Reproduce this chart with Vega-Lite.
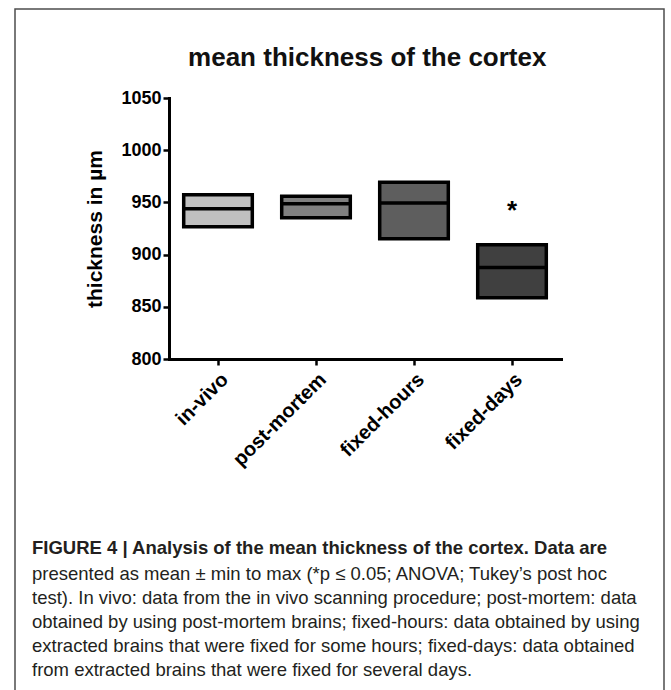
{
  "$schema": "https://vega.github.io/schema/vega-lite/v6.json",
  "padding": {"left": 14, "top": 8, "right": 0, "bottom": 0},
  "background": "white",
  "config": {
    "font": "Liberation Sans",
    "view": {"stroke": "#4d4d4d", "strokeWidth": 1.5}
  },
  "title": {
    "text": "mean thickness of the cortex",
    "orient": "top",
    "anchor": "start",
    "frame": "bounds",
    "align": "center",
    "baseline": "alphabetic",
    "dx": 353,
    "offset": -83.5,
    "fontSize": 26,
    "fontWeight": "bold",
    "color": "#111111"
  },
  "vconcat": [
    {
      "width": 649,
      "height": 730,
      "data": {
        "values": [
          {"group": "in-vivo", "min": 926.7, "max": 957.4, "mean": 944.0},
          {"group": "post-mortem", "min": 935.3, "max": 956.0, "mean": 948.8},
          {"group": "fixed-hours", "min": 915.2, "max": 969.3, "mean": 949.4},
          {"group": "fixed-days", "min": 858.7, "max": 909.5, "mean": 887.7, "sig": "*", "sig_y": 934}
        ]
      },
      "title": {
        "text": "FIGURE 4 | Analysis of the mean thickness of the cortex. Data are",
        "subtitle": [
          "presented as mean ± min to max (*p ≤ 0.05; ANOVA; Tukey’s post hoc",
          "test). In vivo: data from the in vivo scanning procedure; post-mortem: data",
          "obtained by using post-mortem brains; fixed-hours: data obtained by using",
          "extracted brains that were fixed for some hours; fixed-days: data obtained",
          "from extracted brains that were fixed for several days."
        ],
        "orient": "bottom",
        "anchor": "start",
        "frame": "group",
        "align": "left",
        "baseline": "top",
        "dx": 17,
        "offset": -200,
        "fontSize": 18.5,
        "fontWeight": "bold",
        "color": "#231f20",
        "subtitleFontSize": 18.5,
        "subtitleFontWeight": "normal",
        "subtitleColor": "#231f20",
        "subtitleLineHeight": 24,
        "subtitlePadding": 7
      },
      "layer": [
        {
          "mark": {"type": "rect", "stroke": "black", "strokeWidth": 3.5, "strokeJoin": "miter"},
          "encoding": {
            "x": {
              "field": "group", "type": "nominal",
              "sort": ["in-vivo", "post-mortem", "fixed-hours", "fixed-days"],
              "scale": {"type": "band", "range": [154, 546], "paddingInner": 0.3, "paddingOuter": 0.15},
              "axis": {
                "offset": -380,
                "labelAngle": -45,
                "labelFontSize": 20,
                "labelFontWeight": "bold",
                "labelColor": "black",
                "labelPadding": 4,
                "tickSize": 6,
                "tickWidth": 2.5,
                "tickColor": "black",
                "domainColor": "black",
                "domainWidth": 3,
                "domainCap": "square",
                "title": null
              }
            },
            "y": {
              "field": "min", "type": "quantitative",
              "scale": {"domain": [800, 1050], "range": [350, 89], "nice": false, "zero": false},
              "title": "thickness in µm",
              "axis": {
                "values": [800, 850, 900, 950, 1000, 1050],
                "format": "d",
                "offset": -154,
                "grid": false,
                "domainColor": "black",
                "domainWidth": 3,
                "domainCap": "square",
                "tickColor": "black",
                "tickWidth": 2.5,
                "tickSize": 6,
                "labelFontSize": 18,
                "labelFontWeight": "bold",
                "labelColor": "black",
                "labelPadding": 2,
                "titleFontSize": 21,
                "titleFontWeight": "bold",
                "titleColor": "black",
                "titlePadding": 15
              }
            },
            "y2": {"field": "max"},
            "color": {
              "field": "group", "type": "nominal",
              "scale": {"domain": ["in-vivo", "post-mortem", "fixed-hours", "fixed-days"], "range": ["#c0c0c0", "#808080", "#5e5e5e", "#404040"]},
              "legend": null
            }
          }
        },
        {
          "mark": {"type": "rect", "stroke": "black", "strokeWidth": 3.5, "fill": "transparent"},
          "encoding": {
            "x": {
              "field": "group", "type": "nominal",
              "sort": ["in-vivo", "post-mortem", "fixed-hours", "fixed-days"],
              "scale": {"type": "band", "range": [154, 546], "paddingInner": 0.3, "paddingOuter": 0.15}
            },
            "y": {
              "field": "mean", "type": "quantitative",
              "scale": {"domain": [800, 1050], "range": [350, 89], "nice": false, "zero": false},
              "title": "thickness in µm"
            },
            "y2": {"field": "mean"}
          }
        },
        {
          "transform": [{"filter": "isValid(datum.sig)"}],
          "mark": {"type": "text", "fontSize": 26, "fontWeight": "bold", "baseline": "alphabetic", "align": "center", "color": "black"},
          "encoding": {
            "x": {
              "field": "group", "type": "nominal",
              "sort": ["in-vivo", "post-mortem", "fixed-hours", "fixed-days"],
              "scale": {"type": "band", "range": [154, 546], "paddingInner": 0.3, "paddingOuter": 0.15},
              "bandPosition": 0.5
            },
            "y": {
              "field": "sig_y", "type": "quantitative",
              "scale": {"domain": [800, 1050], "range": [350, 89], "nice": false, "zero": false},
              "title": "thickness in µm"
            },
            "text": {"field": "sig"}
          }
        }
      ]
    }
  ]
}
